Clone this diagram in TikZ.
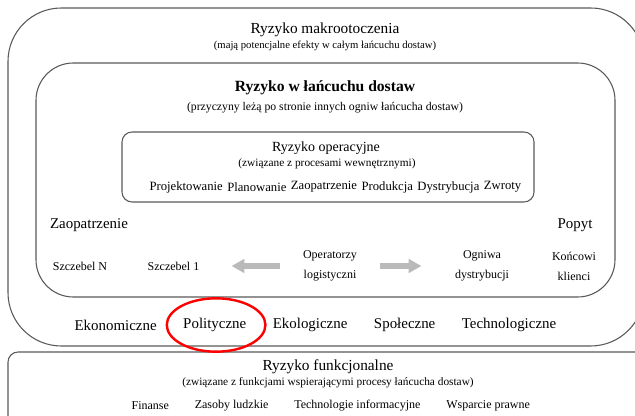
\documentclass[tikz,border=0pt]{standalone}
\usepackage{fontspec}
\setmainfont{Liberation Serif}
\usetikzlibrary{positioning, arrows.meta}

\tikzset{
  riskbox/.style={draw=black!65, line width=0.8pt},
  bigtitle/.style={font=\fontsize{11.5}{13}\selectfont, inner sep=1pt},
  subtitle/.style={font=\fontsize{8.5}{10}\selectfont, inner sep=1pt},
  level/.style={font=\fontsize{9}{15}\selectfont, inner sep=1pt, align=center},
  process/.style={font=\fontsize{9.5}{11}\selectfont, inner sep=1pt},
  factor/.style={font=\fontsize{11.2}{13}\selectfont, inner sep=1pt},
  support/.style={font=\fontsize{9}{11}\selectfont, inner sep=1pt},
  flowarrow/.style={draw=black!27, line width=3.8pt, -{Triangle[length=9.5pt,width=10pt]}},
}

\begin{document}
\begin{tikzpicture}[x=0.75pt, y=-0.75pt]
\useasboundingbox (0,0) rectangle (635,416);
\clip (0,0) rectangle (635,416);

% ramki
\draw[riskbox, rounded corners=40pt] (8,8) rectangle (644,346);
\draw[riskbox, rounded corners=28pt] (36,63) rectangle (615,297);
\draw[riskbox, rounded corners=7.5pt] (122,132) rectangle (534,202);
\draw[riskbox, rounded corners=7.5pt] (8,352) rectangle (660,440);

% makrootoczenie
\node[bigtitle] (macro) at (325,30) {Ryzyko makrootoczenia};
\node[subtitle, font=\fontsize{8}{10}\selectfont] (macrosub) at (325,46) {(mają potencjalne efekty w całym łańcuchu dostaw)};

% lancuch dostaw
\node[bigtitle, font=\fontsize{11.7}{14}\selectfont\bfseries] (chain) at (325,88) {Ryzyko w łańcuchu dostaw};
\node[subtitle, font=\fontsize{8.8}{10}\selectfont] (chainsub) at (325,108) {(przyczyny leżą po stronie innych ogniw łańcucha dostaw)};

% operacyjne
\node[bigtitle, font=\fontsize{10.5}{12}\selectfont] (operrisk) at (326,148) {Ryzyko operacyjne};
\node[subtitle] (opersub) at (327,164) {(związane z procesami wewnętrznymi)};
\node[process, anchor=west] (p1) at (148,187) {Projektowanie};
\node[process, right=1pt of p1] (p2) {Planowanie};
\node[process, right=1pt of p2] (p3) {Zaopatrzenie};
\node[process, right=1pt of p3] (p4) {Produkcja};
\node[process, right=1pt of p4] (p5) {Dystrybucja};
\node[process, right=1pt of p5] (p6) {Zwroty};

% ogniwa
\node[factor] (supply) at (89,225) {Zaopatrzenie};
\node[factor] (demand) at (575,225) {Popyt};
\node[level] (tierN) at (80,266) {Szczebel N};
\node[level] (tier1) at (173.5,266) {Szczebel 1};
\node[level] (logist) at (330,266) {Operatorzy\\logistyczni};
\node[level] (distr) at (482,266) {Ogniwa\\dystrybucji};
\node[level] (client) at (574,266) {Końcowi\\klienci};
\draw[flowarrow, shorten <=16pt, shorten >=23pt] (logist) -- (tier1);
\draw[flowarrow, shorten <=16pt, shorten >=24pt] (logist) -- (distr);

% czynniki makro
\node[factor, anchor=west] (f1) at (73,325) {Ekonomiczne};
\node[factor, right=17.5pt of f1] (f2) {Polityczne};
\node[factor, right=17.5pt of f2] (f3) {Ekologiczne};
\node[factor, right=17.5pt of f3] (f4) {Społeczne};
\node[factor, right=17.5pt of f4] (f5) {Technologiczne};
\draw[red, line width=1.8pt] ([xshift=1pt]f2.center) ellipse [x radius=37pt, y radius=20pt];

% funkcjonalne
\node[bigtitle] (func) at (328,367) {Ryzyko funkcjonalne};
\node[subtitle] (funcsub) at (328,383) {(związane z funkcjami wspierającymi procesy łańcucha dostaw)};
\node[support, anchor=west] (s1) at (130,406) {Finanse};
\node[support, right=17pt of s1] (s2) {Zasoby ludzkie};
\node[support, right=17pt of s2] (s3) {Technologie informacyjne};
\node[support, right=17pt of s3] (s4) {Wsparcie prawne};
\end{tikzpicture}
\end{document}
